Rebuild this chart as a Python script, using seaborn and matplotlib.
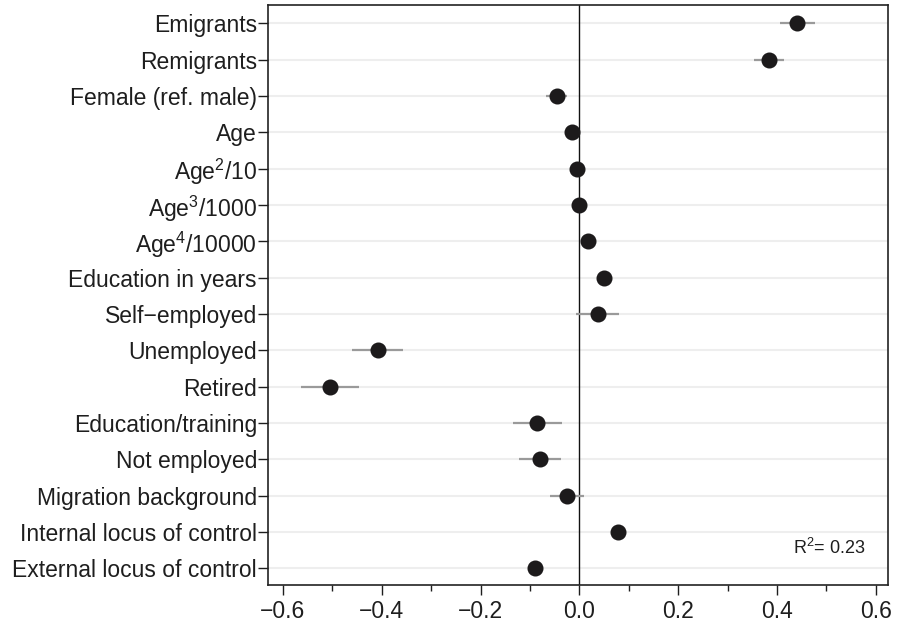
import numpy as np
import pandas as pd
import matplotlib
matplotlib.use("Agg")
import matplotlib.pyplot as plt
import seaborn as sns
from matplotlib.ticker import MultipleLocator

variables = ["Emigrants", "Remigrants", "Female (ref. male)", "Age",
             "Age$^2$/10", "Age$^3$/1000", "Age$^4$/10000",
             "Education in years", "Self\u2212employed", "Unemployed", "Retired",
             "Education/training", "Not employed", "Migration background",
             "Internal locus of control", "External locus of control"]
coef = [0.441, 0.383, -0.046, -0.014, -0.005, 0.0, 0.017, 0.050, 0.037,
        -0.408, -0.505, -0.086, -0.080, -0.025, 0.078, -0.090]
ci_low = [0.406, 0.354, -0.068, -0.020, -0.009, -0.003, 0.012, 0.045, -0.007,
          -0.460, -0.563, -0.134, -0.122, -0.059, 0.072, -0.096]
ci_high = [0.477, 0.415, -0.024, -0.008, -0.001, 0.003, 0.022, 0.055, 0.081,
           -0.356, -0.445, -0.036, -0.037, 0.009, 0.084, -0.084]
xticks = [-0.6, -0.4, -0.2, 0.0, 0.2, 0.4, 0.6]
r2_text = "R$^2$= 0.23"

df = pd.DataFrame({"var": variables, "coef": coef, "lo": ci_low, "hi": ci_high})

sns.set_style("white")
plt.rcParams['font.family'] = ['Liberation Sans', 'DejaVu Sans']
plt.rcParams['mathtext.default'] = 'regular'
plt.rcParams['font.size'] = 15
plt.rcParams['text.color'] = '#1e1e1e'
plt.rcParams['xtick.color'] = '#1e1e1e'
plt.rcParams['ytick.color'] = '#1e1e1e'

fig, ax = plt.subplots(figsize=(8.98, 6.24), dpi=100)
fig.subplots_adjust(left=0.2985, right=0.989, top=0.992, bottom=0.0625)

pos = np.arange(len(variables))
ax.grid(False)
for p in pos:
    ax.axhline(p, color='#eeeeee', lw=1.5, zorder=0)
ax.axvline(0, color='#111111', lw=1.0, zorder=1)
ax.hlines(pos, df["lo"], df["hi"], color='#9a9a9a', lw=1.6, zorder=2)
sns.pointplot(data=df, x="coef", y="var", order=variables, linestyle="none",
              color="#1c1a1b", markersize=9.5, errorbar=None, ax=ax, zorder=3)

ax.set_xlim(-0.630, 0.625)
ax.set_ylim(len(variables) - 1 + 0.46, -0.50)
ax.set_xlabel("")
ax.set_ylabel("")
ax.xaxis.set_minor_locator(MultipleLocator(0.1))
ax.set_xticks(xticks)
ax.set_xticklabels([f"{v:.1f}".replace("-", "\u2212") for v in xticks])
ax.tick_params(axis='x', which='major', direction='out', length=7, width=1, pad=4,
               labelsize=16.5, bottom=True)
ax.tick_params(axis='x', which='minor', direction='out', length=4, width=1, bottom=True)
ax.tick_params(axis='y', direction='out', length=7, width=1, pad=1,
               labelsize=16.5, left=True)
for s in ax.spines.values():
    s.set_visible(True)
    s.set_color('#222222')
    s.set_linewidth(1.2)

ax.text(0.963, 0.047, r2_text, transform=ax.transAxes, ha='right', va='bottom', fontsize=13)

fig.savefig("out.png", dpi=100)
